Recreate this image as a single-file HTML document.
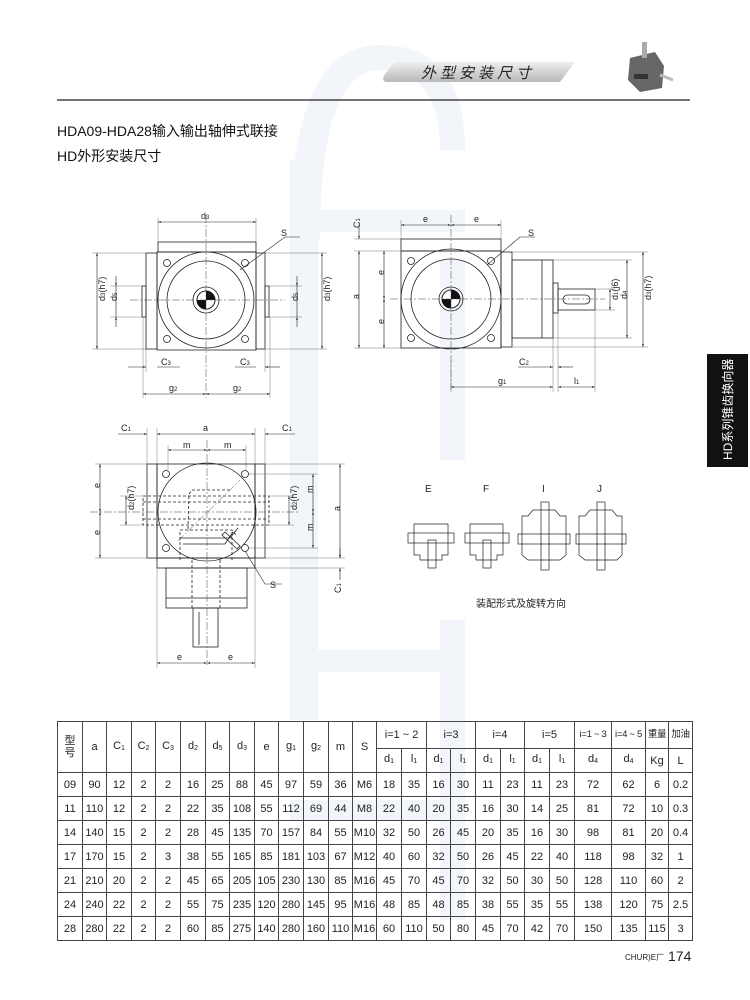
<!DOCTYPE html>
<html><head><meta charset="utf-8">
<style>
html,body{margin:0;padding:0;background:#fff;}
#p{position:relative;width:750px;height:1000px;overflow:hidden;font-family:"Liberation Sans","Noto Sans CJK SC",sans-serif;color:#222;}
svg{position:absolute;left:0;top:0;}
table{position:absolute;left:57px;top:721px;border-collapse:collapse;table-layout:fixed;width:635px;font-size:11px;text-align:center;}
td{border:1px solid #444;padding:0;height:23px;line-height:12px;white-space:nowrap;overflow:hidden;}
td.s{font-size:9.5px;letter-spacing:-0.3px;}
sub{font-size:7px;vertical-align:-1px;}
.t{position:absolute;font-size:14px;color:#111;}
</style></head><body><div id="p">
<svg width="750" height="1000" viewBox="0 0 750 1000">
<defs>
<marker id="a" viewBox="0 0 10 10" refX="10" refY="5" markerWidth="6" markerHeight="5" orient="auto-start-reverse"><path d="M0,2 L10,5 L0,8 z" fill="#222"/></marker>
<linearGradient id="g" x1="0" y1="0" x2="0" y2="1"><stop offset="0" stop-color="#eee"/><stop offset="1" stop-color="#b9b9b9"/></linearGradient>
</defs>
<!-- watermark -->
<g fill="#f2f5f9">
<path d="M290,240 Q290,45 380,45 Q465,45 465,150 L440,150 Q440,70 380,70 Q320,70 320,240 Z"/>
<rect x="290" y="160" width="28" height="560"/>
<rect x="290" y="210" width="175" height="22"/>
<rect x="440" y="260" width="25" height="200"/>
<rect x="290" y="650" width="175" height="22"/>
<rect x="440" y="620" width="25" height="300"/>
<rect x="290" y="800" width="175" height="20"/>
</g>
<!-- header -->
<path d="M395,62 L575,62 L560,82 L388,82 Q380,82 385,74 Z" fill="url(#g)"/>
<text x="478" y="78" font-size="15" font-style="italic" text-anchor="middle" fill="#222" letter-spacing="4" font-family="Liberation Sans,Noto Sans CJK SC,sans-serif">外型安装尺寸</text>
<line x1="57" y1="100" x2="690" y2="100" stroke="#222" stroke-width="1.2"/>
<g>
<path d="M630,58 L655,52 L664,66 L662,88 L640,92 L628,80 Z" fill="#666"/>
<rect x="642" y="42" width="5" height="16" fill="#aaa"/>
<line x1="660" y1="75" x2="673" y2="80" stroke="#bbb" stroke-width="3"/>
<rect x="634" y="74" width="14" height="5" fill="#333"/>
</g>
<g fill="none" stroke="#222" stroke-width="0.8">
<!-- Drawing 1 -->
<rect x="158" y="242" width="98" height="10"/>
<rect x="157" y="252" width="99" height="98"/>
<rect x="146" y="253" width="11" height="96"/>
<rect x="256" y="253" width="9" height="96"/>
<rect x="142" y="286" width="4" height="31"/>
<rect x="265" y="286" width="4" height="31"/>
<circle cx="206" cy="300" r="48"/>
<circle cx="206" cy="300" r="39"/>
<circle cx="206" cy="300" r="13"/>
<circle cx="167" cy="263" r="3.5"/><circle cx="245" cy="263" r="3.5"/><circle cx="167" cy="339" r="3.5"/><circle cx="245" cy="339" r="3.5"/>
<!-- Drawing 2 -->
<rect x="401" y="239" width="100" height="12"/>
<rect x="401" y="251" width="100" height="97"/>
<rect x="501" y="252" width="11" height="95"/>
<rect x="512" y="260" width="41" height="78"/><line x1="542" y1="260" x2="542" y2="338"/>
<rect x="553" y="283" width="5" height="30"/>
<rect x="558" y="289" width="37" height="21"/>
<rect x="563" y="295" width="27" height="9" rx="4.5"/>
<circle cx="451" cy="299" r="50"/>
<circle cx="451" cy="299" r="40"/>
<circle cx="451" cy="299" r="12"/>
<circle cx="411" cy="261" r="3.5"/><circle cx="491" cy="261" r="3.5"/><circle cx="411" cy="338" r="3.5"/><circle cx="491" cy="338" r="3.5"/>
<!-- Drawing 3 -->
<rect x="157" y="464" width="98" height="94"/>
<rect x="147" y="464" width="10" height="94"/>
<rect x="255" y="464" width="10" height="94"/>
<rect x="157" y="558" width="98" height="10"/>
<rect x="166" y="568" width="81" height="40"/><line x1="166" y1="598" x2="247" y2="598"/>
<rect x="193" y="608" width="25" height="39"/><line x1="199" y1="612" x2="199" y2="645"/>
<circle cx="207" cy="512" r="49"/>
<circle cx="166" cy="474" r="3.5"/><circle cx="245" cy="474" r="3.5"/><circle cx="166" cy="548" r="3.5"/><circle cx="245" cy="548" r="3.5"/>
<g stroke-dasharray="3,2">
<rect x="143" y="496" width="126" height="29"/>
<line x1="143" y1="502" x2="269" y2="502"/><line x1="143" y1="519" x2="269" y2="519"/>
<path d="M188,529 L189,494 L192,490 L230,490"/>
<path d="M192,560 L192,608 M220,560 L220,608 M180,560 L180,530 M232,560 L232,530"/>
<path d="M180,530 L232,530 L236,535"/>
</g>
<path d="M180,538 L230,538 L238,528 M183,544 L225,544 L233,532"/>
<path d="M225,532 L240,546 L237,549 L222,535 Z"/>
</g>
<!-- hub symbols -->
<g>
<circle cx="206" cy="300" r="9" fill="#fff" stroke="#222"/>
<path d="M206,291 A9,9 0 0 1 215,300 L206,300 Z M206,309 A9,9 0 0 1 197,300 L206,300 Z" fill="#111"/>
<circle cx="451" cy="299" r="9" fill="#fff" stroke="#222"/>
<path d="M451,290 A9,9 0 0 1 460,299 L451,299 Z M451,308 A9,9 0 0 1 442,299 L451,299 Z" fill="#111"/>
</g>
<!-- center lines -->
<g stroke="#444" stroke-width="0.5" stroke-dasharray="8,2,2,2" fill="none">
<line x1="206" y1="215" x2="206" y2="398"/><line x1="130" y1="300" x2="285" y2="300"/>
<line x1="451" y1="215" x2="451" y2="390"/><line x1="390" y1="299" x2="605" y2="299"/>
<line x1="207" y1="440" x2="207" y2="665"/><line x1="90" y1="512" x2="300" y2="512"/>
<line x1="178" y1="541" x2="240" y2="480"/>
</g>
<!-- dimension lines -->
<g stroke="#222" stroke-width="0.6" fill="none">
<g stroke="#555" stroke-width="0.4">
<line x1="158" y1="218" x2="158" y2="242"/><line x1="256" y1="218" x2="256" y2="242"/>
<line x1="92" y1="253" x2="146" y2="253"/><line x1="92" y1="349" x2="146" y2="349"/>
<line x1="110" y1="286" x2="142" y2="286"/><line x1="110" y1="317" x2="142" y2="317"/>
<line x1="269" y1="286" x2="302" y2="286"/><line x1="269" y1="317" x2="302" y2="317"/>
<line x1="265" y1="253" x2="327" y2="253"/><line x1="265" y1="349" x2="327" y2="349"/>
<line x1="143" y1="317" x2="143" y2="398"/><line x1="270" y1="317" x2="270" y2="398"/>
<line x1="146" y1="349" x2="146" y2="372"/><line x1="265" y1="349" x2="265" y2="372"/>
<line x1="401" y1="220" x2="401" y2="239"/><line x1="501" y1="220" x2="501" y2="239"/>
<line x1="354" y1="239" x2="401" y2="239"/><line x1="354" y1="251" x2="401" y2="251"/><line x1="354" y1="348" x2="401" y2="348"/>
<line x1="553" y1="338" x2="553" y2="392"/><line x1="558" y1="313" x2="558" y2="392"/><line x1="595" y1="310" x2="595" y2="392"/>
<line x1="595" y1="289" x2="615" y2="289"/><line x1="595" y1="310" x2="615" y2="310"/>
<line x1="553" y1="260" x2="632" y2="260"/><line x1="553" y1="338" x2="632" y2="338"/>
<line x1="512" y1="252" x2="648" y2="252"/><line x1="512" y1="347" x2="648" y2="347"/>
<line x1="147" y1="428" x2="147" y2="464"/><line x1="157" y1="428" x2="157" y2="464"/><line x1="255" y1="428" x2="255" y2="464"/><line x1="265" y1="428" x2="265" y2="464"/>
<line x1="168" y1="445" x2="168" y2="470"/><line x1="246" y1="445" x2="246" y2="470"/>
<line x1="95" y1="464" x2="147" y2="464"/><line x1="95" y1="558" x2="157" y2="558"/>
<line x1="120" y1="496" x2="143" y2="496"/><line x1="120" y1="525" x2="143" y2="525"/>
<line x1="269" y1="496" x2="294" y2="496"/><line x1="269" y1="525" x2="294" y2="525"/>
<line x1="249" y1="474" x2="318" y2="474"/><line x1="249" y1="548" x2="318" y2="548"/>
<line x1="265" y1="464" x2="345" y2="464"/><line x1="265" y1="558" x2="345" y2="558"/><line x1="255" y1="568" x2="345" y2="568"/>
<line x1="157" y1="568" x2="157" y2="668"/><line x1="255" y1="568" x2="255" y2="668"/>
</g>
<line x1="158" y1="222" x2="256" y2="222" marker-start="url(#a)" marker-end="url(#a)"/>
<line x1="97" y1="253" x2="97" y2="349" marker-start="url(#a)" marker-end="url(#a)"/>
<line x1="116" y1="276" x2="116" y2="286" marker-end="url(#a)"/><line x1="116" y1="327" x2="116" y2="317" marker-end="url(#a)"/><line x1="116" y1="286" x2="116" y2="317"/>
<line x1="297" y1="276" x2="297" y2="286" marker-end="url(#a)"/><line x1="297" y1="327" x2="297" y2="317" marker-end="url(#a)"/><line x1="297" y1="286" x2="297" y2="317"/>
<line x1="322" y1="253" x2="322" y2="349" marker-start="url(#a)" marker-end="url(#a)"/>
<line x1="128" y1="367" x2="146" y2="367" marker-end="url(#a)"/><line x1="157" y1="367" x2="180" y2="367"/>
<line x1="280" y1="367" x2="265" y2="367" marker-end="url(#a)"/><line x1="256" y1="367" x2="235" y2="367"/>
<line x1="143" y1="394" x2="206" y2="394" marker-start="url(#a)" marker-end="url(#a)"/>
<line x1="206" y1="394" x2="270" y2="394" marker-start="url(#a)" marker-end="url(#a)"/>
<path d="M240,270 L285,237 L300,237"/>
<line x1="401" y1="225" x2="451" y2="225" marker-start="url(#a)" marker-end="url(#a)"/>
<line x1="451" y1="225" x2="501" y2="225" marker-start="url(#a)" marker-end="url(#a)"/>
<line x1="359" y1="225" x2="359" y2="239" marker-end="url(#a)"/><line x1="359" y1="251" x2="359" y2="348" marker-start="url(#a)" marker-end="url(#a)"/>
<line x1="384" y1="251" x2="384" y2="299" marker-start="url(#a)" marker-end="url(#a)"/>
<line x1="384" y1="299" x2="384" y2="348" marker-start="url(#a)" marker-end="url(#a)"/>
<line x1="610" y1="289" x2="610" y2="310" marker-start="url(#a)" marker-end="url(#a)"/>
<line x1="627" y1="260" x2="627" y2="338" marker-start="url(#a)" marker-end="url(#a)"/>
<line x1="643" y1="252" x2="643" y2="347" marker-start="url(#a)" marker-end="url(#a)"/>
<line x1="518" y1="367" x2="553" y2="367" marker-end="url(#a)"/><line x1="573" y1="367" x2="558" y2="367" marker-end="url(#a)"/>
<line x1="451" y1="387" x2="553" y2="387" marker-start="url(#a)" marker-end="url(#a)"/>
<line x1="558" y1="387" x2="595" y2="387" marker-start="url(#a)" marker-end="url(#a)"/>
<line x1="451" y1="360" x2="451" y2="392" stroke="#555" stroke-width="0.4"/>
<path d="M487,265 L520,237 L535,237"/>
<line x1="118" y1="434" x2="147" y2="434" marker-end="url(#a)"/>
<line x1="157" y1="434" x2="255" y2="434" marker-start="url(#a)" marker-end="url(#a)"/>
<line x1="295" y1="434" x2="265" y2="434" marker-end="url(#a)"/>
<line x1="168" y1="450" x2="207" y2="450" marker-start="url(#a)" marker-end="url(#a)"/>
<line x1="207" y1="450" x2="246" y2="450" marker-start="url(#a)" marker-end="url(#a)"/>
<line x1="100" y1="464" x2="100" y2="512" marker-start="url(#a)" marker-end="url(#a)"/>
<line x1="100" y1="512" x2="100" y2="558" marker-start="url(#a)" marker-end="url(#a)"/>
<line x1="126" y1="496" x2="126" y2="525" marker-start="url(#a)" marker-end="url(#a)"/>
<line x1="289" y1="496" x2="289" y2="525" marker-start="url(#a)" marker-end="url(#a)"/>
<line x1="313" y1="474" x2="313" y2="512" marker-start="url(#a)" marker-end="url(#a)"/>
<line x1="313" y1="512" x2="313" y2="548" marker-start="url(#a)" marker-end="url(#a)"/>
<line x1="340" y1="464" x2="340" y2="558" marker-start="url(#a)" marker-end="url(#a)"/>
<line x1="340" y1="548" x2="340" y2="558" marker-end="url(#a)"/><line x1="340" y1="580" x2="340" y2="568" marker-end="url(#a)"/>
<line x1="157" y1="663" x2="207" y2="663" marker-start="url(#a)" marker-end="url(#a)"/>
<line x1="207" y1="663" x2="255" y2="663" marker-start="url(#a)" marker-end="url(#a)"/>
<path d="M245,551 L265,584 L282,584"/>
</g>
<!-- labels -->
<g font-size="9" fill="#222" font-family="Liberation Sans,sans-serif">
<text x="201" y="219">d<tspan font-size="6">3</tspan></text>
<text x="281" y="236">S</text>
<text x="94" y="312" transform="rotate(-90 94 301)">d<tspan font-size="6">3</tspan>(h7)</text>
<text x="113" y="305" transform="rotate(-90 113 301)">d<tspan font-size="6">5</tspan></text>
<text x="294" y="305" transform="rotate(-90 294 301)">d<tspan font-size="6">5</tspan></text>
<text x="319" y="312" transform="rotate(-90 319 301)">d<tspan font-size="6">3</tspan>(h7)</text>
<text x="161" y="365">C<tspan font-size="6">3</tspan></text>
<text x="240" y="365">C<tspan font-size="6">3</tspan></text>
<text x="169" y="391">g<tspan font-size="6">2</tspan></text>
<text x="233" y="391">g<tspan font-size="6">2</tspan></text>
<text x="423" y="222">e</text><text x="474" y="222">e</text>
<text x="356" y="232" transform="rotate(-90 356 228)">C<tspan font-size="6">1</tspan></text>
<text x="356" y="302" transform="rotate(-90 356 299)">a</text>
<text x="381" y="278" transform="rotate(-90 381 275)">e</text>
<text x="381" y="327" transform="rotate(-90 381 324)">e</text>
<text x="528" y="236">S</text>
<text x="607" y="311" transform="rotate(-90 607 300)">d<tspan font-size="6">1</tspan>(j6)</text>
<text x="624" y="302" transform="rotate(-90 624 299)">d<tspan font-size="6">4</tspan></text>
<text x="640" y="311" transform="rotate(-90 640 300)">d<tspan font-size="6">3</tspan>(h7)</text>
<text x="519" y="365">C<tspan font-size="6">2</tspan></text>
<text x="498" y="384">g<tspan font-size="6">1</tspan></text>
<text x="574" y="384">l<tspan font-size="6">1</tspan></text>
<text x="121" y="431">C<tspan font-size="6">1</tspan></text>
<text x="203" y="431">a</text>
<text x="282" y="431">C<tspan font-size="6">1</tspan></text>
<text x="183" y="448">m</text><text x="224" y="448">m</text>
<text x="97" y="491" transform="rotate(-90 97 488)">e</text>
<text x="97" y="538" transform="rotate(-90 97 535)">e</text>
<text x="123" y="521" transform="rotate(-90 123 510)">d<tspan font-size="6">2</tspan>(h7)</text>
<text x="286" y="521" transform="rotate(-90 286 510)">d<tspan font-size="6">2</tspan>(h7)</text>
<text x="310" y="496" transform="rotate(-90 310 493)">m</text>
<text x="310" y="534" transform="rotate(-90 310 531)">m</text>
<text x="337" y="514" transform="rotate(-90 337 511)">a</text>
<text x="337" y="597" transform="rotate(-90 337 593)">C<tspan font-size="6">1</tspan></text>
<text x="270" y="588">S</text>
<text x="177" y="660">e</text><text x="228" y="660">e</text>
<text x="425" y="492" font-size="10">E</text>
<text x="483" y="492" font-size="10">F</text>
<text x="542" y="492" font-size="10">I</text>
<text x="597" y="492" font-size="10">J</text>
</g>
<!-- assembly mini drawings -->
<g fill="none" stroke="#222" stroke-width="0.7">
<path d="M414,524 L448,524 L448,555 L442,555 L442,560 L420,560 L420,555 L414,555 Z"/>
<rect x="408" y="533" width="46" height="10"/><rect x="428" y="540" width="8" height="28"/>
<path d="M470,524 L503,524 L503,555 L497,555 L497,560 L476,560 L476,555 L470,555 Z"/>
<rect x="465" y="533" width="44" height="10"/><rect x="483" y="540" width="8" height="28"/>
<path d="M528,516 L533,510 L555,510 L560,516 L566,516 L566,555 L560,560 L528,560 L522,555 L522,516 Z"/>
<rect x="518" y="534" width="52" height="10"/><rect x="541" y="502" width="8" height="68"/>
<path d="M585,516 L590,510 L612,510 L617,516 L622,516 L622,555 L617,560 L585,560 L579,555 L579,516 Z"/>
<rect x="576" y="534" width="50" height="10"/><rect x="597" y="502" width="8" height="68"/>
</g>
<text x="521" y="607" font-size="10" text-anchor="middle" fill="#222" font-family="Liberation Sans,Noto Sans CJK SC,sans-serif">装配形式及旋转方向</text>
<!-- side tab -->
<rect x="707" y="354" width="41" height="113" fill="#111"/>
<text x="732" y="460" transform="rotate(-90 732 460)" font-size="12" fill="#fff" font-family="Liberation Sans,Noto Sans CJK SC,sans-serif">HD系列锥齿换向器</text>
<!-- footer -->
<text x="625" y="960" font-size="8" fill="#222">CHUR)E厂</text>
<text x="668" y="961" font-size="14" fill="#222">174</text>
</svg>
<div class="t" style="left:57px;top:121px;">HDA09-HDA28输入输出轴伸式联接</div>
<div class="t" style="left:57px;top:146px;">HD外形安装尺寸</div>
<table>
<colgroup><col style="width:25px"><col style="width:24px"><col style="width:25px"><col style="width:24px"><col style="width:25px"><col style="width:25px"><col style="width:24px"><col style="width:25px"><col style="width:24px"><col style="width:25px"><col style="width:25px"><col style="width:24px"><col style="width:24px"><col style="width:25px"><col style="width:25px"><col style="width:24px"><col style="width:25px"><col style="width:25px"><col style="width:24px"><col style="width:25px"><col style="width:25px"><col style="width:37px"><col style="width:34px"><col style="width:23px"><col style="width:24px"></colgroup>
<tr style="height:27px"><td rowspan="2">型<br>号</td><td rowspan="2">a</td><td rowspan="2">C<sub>1</sub></td><td rowspan="2">C<sub>2</sub></td><td rowspan="2">C<sub>3</sub></td><td rowspan="2">d<sub>2</sub></td><td rowspan="2">d<sub>5</sub></td><td rowspan="2">d<sub>3</sub></td><td rowspan="2">e</td><td rowspan="2">g<sub>1</sub></td><td rowspan="2">g<sub>2</sub></td><td rowspan="2">m</td><td rowspan="2">S</td><td colspan="2">i=1 ~ 2</td><td colspan="2">i=3</td><td colspan="2">i=4</td><td colspan="2">i=5</td><td class="s">i=1 ~ 3</td><td class="s">i=4 ~ 5</td><td class="s">重量</td><td class="s">加油</td></tr>
<tr style="height:24px"><td>d<sub>1</sub></td><td>l<sub>1</sub></td><td>d<sub>1</sub></td><td>l<sub>1</sub></td><td>d<sub>1</sub></td><td>l<sub>1</sub></td><td>d<sub>1</sub></td><td>l<sub>1</sub></td><td>d<sub>4</sub></td><td>d<sub>4</sub></td><td>Kg</td><td>L</td></tr>
<tr><td>09</td><td>90</td><td>12</td><td>2</td><td>2</td><td>16</td><td>25</td><td>88</td><td>45</td><td>97</td><td>59</td><td>36</td><td>M6</td><td>18</td><td>35</td><td>16</td><td>30</td><td>11</td><td>23</td><td>11</td><td>23</td><td>72</td><td>62</td><td>6</td><td>0.2</td></tr>
<tr><td>11</td><td>110</td><td>12</td><td>2</td><td>2</td><td>22</td><td>35</td><td>108</td><td>55</td><td>112</td><td>69</td><td>44</td><td>M8</td><td>22</td><td>40</td><td>20</td><td>35</td><td>16</td><td>30</td><td>14</td><td>25</td><td>81</td><td>72</td><td>10</td><td>0.3</td></tr>
<tr><td>14</td><td>140</td><td>15</td><td>2</td><td>2</td><td>28</td><td>45</td><td>135</td><td>70</td><td>157</td><td>84</td><td>55</td><td>M10</td><td>32</td><td>50</td><td>26</td><td>45</td><td>20</td><td>35</td><td>16</td><td>30</td><td>98</td><td>81</td><td>20</td><td>0.4</td></tr>
<tr><td>17</td><td>170</td><td>15</td><td>2</td><td>3</td><td>38</td><td>55</td><td>165</td><td>85</td><td>181</td><td>103</td><td>67</td><td>M12</td><td>40</td><td>60</td><td>32</td><td>50</td><td>26</td><td>45</td><td>22</td><td>40</td><td>118</td><td>98</td><td>32</td><td>1</td></tr>
<tr><td>21</td><td>210</td><td>20</td><td>2</td><td>2</td><td>45</td><td>65</td><td>205</td><td>105</td><td>230</td><td>130</td><td>85</td><td>M16</td><td>45</td><td>70</td><td>45</td><td>70</td><td>32</td><td>50</td><td>30</td><td>50</td><td>128</td><td>110</td><td>60</td><td>2</td></tr>
<tr><td>24</td><td>240</td><td>22</td><td>2</td><td>2</td><td>55</td><td>75</td><td>235</td><td>120</td><td>280</td><td>145</td><td>95</td><td>M16</td><td>48</td><td>85</td><td>48</td><td>85</td><td>38</td><td>55</td><td>35</td><td>55</td><td>138</td><td>120</td><td>75</td><td>2.5</td></tr>
<tr><td>28</td><td>280</td><td>22</td><td>2</td><td>2</td><td>60</td><td>85</td><td>275</td><td>140</td><td>280</td><td>160</td><td>110</td><td>M16</td><td>60</td><td>110</td><td>50</td><td>80</td><td>45</td><td>70</td><td>42</td><td>70</td><td>150</td><td>135</td><td>115</td><td>3</td></tr>
</table>
</div></body></html>
